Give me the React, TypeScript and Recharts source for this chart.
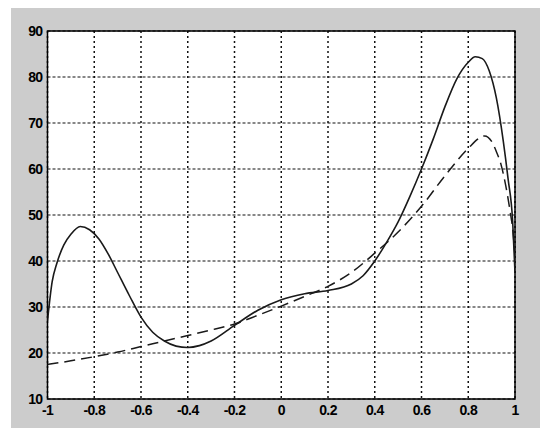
import {
  CartesianGrid,
  Line,
  LineChart,
  ReferenceArea,
  XAxis,
  YAxis,
} from "recharts";

const xTicks = [-1, -0.8, -0.6, -0.4, -0.2, 0, 0.2, 0.4, 0.6, 0.8, 1];
const yTicks = [10, 20, 30, 40, 50, 60, 70, 80, 90];

// solid curve
const solidX = [
  -1, -0.98, -0.96, -0.93, -0.9, -0.86, -0.82, -0.78, -0.74, -0.7, -0.65, -0.6,
  -0.55, -0.5, -0.45, -0.4, -0.35, -0.3, -0.2, -0.1, 0, 0.1, 0.2, 0.3, 0.35,
  0.4, 0.45, 0.5, 0.55, 0.6, 0.65, 0.7, 0.75, 0.8, 0.83, 0.86, 0.89, 0.92,
  0.95, 0.97, 0.99, 1,
];
const solidY = [
  27, 35.5, 39.5, 43.5, 45.8, 47.5, 46.8, 44.8, 41.5, 37.5, 32.5, 27.8, 24.5,
  22.6, 21.5, 21.2, 21.6, 22.6, 26, 29.3, 31.6, 32.9, 33.6, 35, 36.8, 40, 44,
  48.5, 54, 60, 66.5, 73.5, 79.5, 83.2, 84.4, 84, 81.3, 75.5, 66, 58, 48.6,
  37.5,
];

// dashed curve
const dashedX = [
  -1, -0.9, -0.8, -0.7, -0.6, -0.5, -0.4, -0.3, -0.2, -0.1, 0, 0.1, 0.2, 0.3,
  0.4, 0.5, 0.6, 0.7, 0.8, 0.85, 0.87, 0.9, 0.92, 0.94, 0.96, 0.98, 0.99, 1,
];
const dashedY = [
  17.5, 18.3, 19.2, 20.2, 21.4, 22.6, 23.8, 25, 26.3, 28.2, 30.2, 32.3, 34.5,
  37.5, 41.7, 46.3, 51.9, 58.5, 64.5, 66.8, 67.2, 66, 63.8, 61, 56.5, 50.5, 47,
  41,
];

const solid = solidX.map((x, i) => ({ x, y: solidY[i] }));
const dashed = dashedX.map((x, i) => ({ x, y: dashedY[i] }));

const tickStyle = {
  fontSize: 14,
  fontWeight: 600,
  letterSpacing: -0.6,
  fill: "#000",
  fontFamily: "Liberation Sans, Arial, sans-serif",
};

export default function App() {
  return (
    <div
      style={{
        position: "fixed",
        left: 0,
        top: 0,
        width: 550,
        height: 439,
        background: "#fff",
      }}
    >
      <div
        style={{
          position: "absolute",
          left: 11,
          top: 8,
          width: 529,
          height: 420,
          background: "#cccccc",
        }}
      />
      <div style={{ position: "absolute", left: 0, top: 0 }}>
        <LineChart
          width={550}
          height={439}
          margin={{ top: 31, right: 35, left: 10, bottom: 10 }}
        >
          <CartesianGrid
            fill="#fff"
            horizontal={false}
            stroke="#111"
            strokeWidth={1.5}
            strokeDasharray="2 3"
          />
          <CartesianGrid
            vertical={false}
            stroke="#111"
            strokeWidth={1.2}
            strokeDasharray="3 2"
          />
          <XAxis
            type="number"
            dataKey="x"
            domain={[-1, 1]}
            ticks={xTicks}
            allowDataOverflow
            axisLine={false}
            tickLine={false}
            tickSize={0}
            tickMargin={6}
            height={30}
            tick={tickStyle}
            interval={0}
          />
          <YAxis
            type="number"
            dataKey="y"
            domain={[10, 90]}
            ticks={yTicks}
            allowDataOverflow
            axisLine={false}
            tickLine={false}
            tickSize={0}
            tickMargin={5}
            width={37.5}
            tick={tickStyle}
            interval={0}
          />
          <Line
            data={dashed}
            dataKey="y"
            type="monotone"
            stroke="#1a1a1a"
            strokeWidth={1.5}
            strokeDasharray="11 6"
            dot={false}
            isAnimationActive={false}
          />
          <Line
            data={solid}
            dataKey="y"
            type="monotone"
            stroke="#1a1a1a"
            strokeWidth={1.6}
            dot={false}
            isAnimationActive={false}
          />
          <ReferenceArea
            x1={-1}
            x2={1}
            y1={10}
            y2={90}
            fill="none"
            fillOpacity={0}
            stroke="#000"
            strokeWidth={1.5}
            ifOverflow="visible"
          />
        </LineChart>
      </div>
    </div>
  );
}
